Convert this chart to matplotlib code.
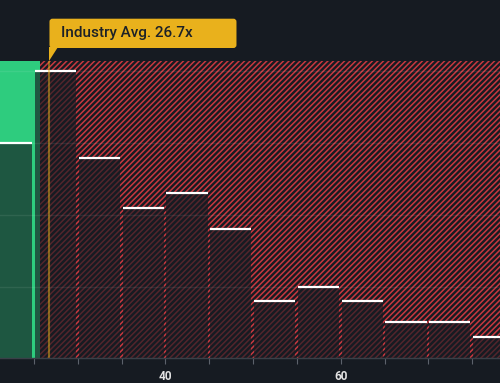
import matplotlib
matplotlib.use('Agg')
import matplotlib.pyplot as plt
from matplotlib.patches import Rectangle, Polygon, FancyBboxPatch
from matplotlib.transforms import IdentityTransform

# ---- data ----
bin_lefts = [20, 25, 30, 35, 40, 45, 50, 55, 60, 65, 70, 75]
counts = [30, 40, 28, 21, 23, 18, 8, 10, 8, 5, 5, 3]
industry_avg = 26.7
undervalued_edge = 25.7
grid_levels = [10, 20, 30, 40]
x_ticks = [25, 30, 35, 40, 45, 50, 55, 60, 65, 70, 75]
x_tick_labels = ['', '', '', '40', '', '', '', '60', '', '', '']
annotation_text = "Industry Avg. 26.7x"

# ---- style ----
BG = '#161b22'
GREEN = '#2ecc7e'
RED = '#c8383f'
YELLOW = '#e9b11c'
plt.rcParams['hatch.linewidth'] = 1.1
plt.rcParams['font.family'] = ['Roboto', 'DejaVu Sans']

W, H = 500, 383
fig = plt.figure(figsize=(W / 100, H / 100), dpi=100)
fig.patch.set_facecolor(BG)
ax = fig.add_axes([0, 24.7 / H, 1, 358.3 / H])
ax.set_facecolor(BG)
xmin, xmax = 21.11, 78.18
ax.set_xlim(xmin, xmax)
ax.set_ylim(0, 49.97)
region_top = 41.47

# background regions
ax.add_patch(Rectangle((xmin, 0), undervalued_edge - xmin, region_top,
                       facecolor=GREEN, edgecolor='none', lw=0, zorder=1))
ax.add_patch(Rectangle((undervalued_edge, 0), xmax - undervalued_edge, region_top,
                       facecolor=BG, edgecolor=RED, lw=0, hatch='/' * 6, zorder=1))

# bars
bw = 4.7
lefts = [b + 0.1 for b in bin_lefts]
ax.bar(lefts, counts, width=bw, align='edge', color=BG, alpha=0.66,
       linewidth=0, zorder=2)

# grid
for g in grid_levels:
    ax.plot([xmin, xmax], [g, g], color='white', alpha=0.08, lw=1, zorder=3)

# bar tops
ax.hlines(counts, lefts, [l + bw for l in lefts], colors='white', lw=1.6, zorder=4)

# industry average line
ax.plot([industry_avg, industry_avg], [0, region_top], color=YELLOW, alpha=0.5,
        lw=1.5, zorder=5, solid_capstyle='butt')

# axes styling
for s in ['top', 'left', 'right']:
    ax.spines[s].set_visible(False)
ax.spines['bottom'].set_color('#3a4048')
ax.spines['bottom'].set_linewidth(1)
ax.spines['bottom'].set_zorder(6)
ax.set_yticks([])
ax.set_xticks(x_ticks)
ax.set_xticklabels(x_tick_labels)
ax.tick_params(axis='x', length=4, width=0.8, color='#5c626b', pad=4.5,
               labelsize=8.5, labelcolor='#e2e2e2')
for lab in ax.get_xticklabels():
    lab.set_fontweight('bold')

# annotation callout (pixel offsets from the anchor point)
fig.canvas.draw()
px, py = ax.transData.transform((industry_avg, region_top))
box_bottom = H - 48
box_top = H - 18.7
box = FancyBboxPatch((px + 0.5, box_bottom), 187, box_top - box_bottom,
                     boxstyle='round,pad=0,rounding_size=3',
                     transform=IdentityTransform(), facecolor=YELLOW,
                     edgecolor='none', zorder=10)
fig.add_artist(box)
tri = Polygon([(px + 0.5, py), (px + 0.5, box_bottom + 1), (px + 9.5, box_bottom + 1)],
              closed=True, transform=IdentityTransform(), facecolor=YELLOW,
              edgecolor='none', zorder=10)
fig.add_artist(tri)
fig.text(px + 12, (box_bottom + box_top) / 2, annotation_text,
         transform=IdentityTransform(), ha='left', va='center',
         fontsize=11, fontweight='medium', color='#1c2127', zorder=11)

fig.savefig('out.png', dpi=100, facecolor=BG)
